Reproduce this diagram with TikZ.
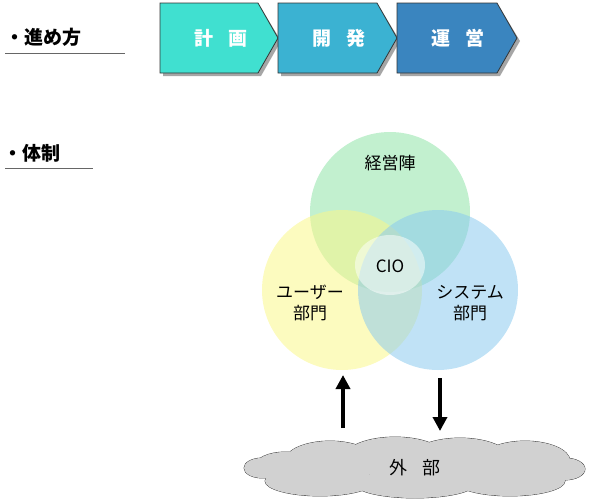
\documentclass[tikz,border=0pt]{standalone}
\usepackage{fontspec}
\setmainfont{Noto Sans CJK JP}
\usetikzlibrary{arrows.meta}
\definecolor{c1}{HTML}{40E0D0}\definecolor{c2}{HTML}{3BB2D2}\definecolor{c3}{HTML}{3A85BF}
\definecolor{cg}{HTML}{8FE3A8}\definecolor{cy}{HTML}{FAF78A}\definecolor{cb}{HTML}{8CCBEE}
\begin{document}
\begin{tikzpicture}[x=1pt,y=-1pt,
 chev/.style={draw=black!80,line width=0.8pt},
 lab/.style={font=\bfseries\fontsize{19}{19}\selectfont,text=white},
 head/.style={font=\bfseries\fontsize{19}{19}\selectfont},
 circ/.style={fill opacity=0.55,draw=none},
 txt/.style={font=\fontsize{17}{21}\selectfont,align=center},
 arr/.style={line width=3.5pt,-{Triangle[length=14pt,width=14pt]}}]
\useasboundingbox (0,0) rectangle (600,499);
\fill[black!35] (163,8) -- (261,8) -- (281,41) -- (261,76) -- (163,76) -- cycle;
\fill[black!35] (281,8) -- (380,8) -- (400,41) -- (380,76) -- (281,76) -- cycle;
\fill[black!35] (400,8) -- (500,8) -- (520,41) -- (500,76) -- (400,76) -- cycle;
\draw[chev,fill=c1] (160,3) -- (258,3) -- (278,38) -- (258,73) -- (160,73) -- cycle;
\draw[chev,fill=c2] (278,3) -- (377,3) -- (397,38) -- (377,73) -- (278,73) -- cycle;
\draw[chev,fill=c3] (397,3) -- (497,3) -- (517,38) -- (497,73) -- (397,73) -- cycle;
\node[lab] (p1) at (221,38) {計\hspace{0.8em}画};
\node[lab] (p2) at (339,38) {開\hspace{0.8em}発};
\node[lab] (p3) at (458,38) {運\hspace{0.8em}営};
\node[head,anchor=west] (h1) at (2,37) {・進め方};
\draw[black!60] (5,53) -- (125,53);
\node[head,anchor=west] (h2) at (0,153) {・体制};
\draw[black!60] (5,168) -- (93,168);
\fill[circ,fill=cg] (390,212) circle (80);
\fill[circ,fill=cy] (342,290) circle (80);
\fill[circ,fill=cb] (438,290) circle (80);
\fill[white,fill opacity=0.5] (390,265) ellipse (35 and 30);
\node[txt] (g) at (390,163) {経営陣};
\node[txt] (c) at (390,266) {CIO};
\node[txt] (u) at (310,303) {ユーザー\\部門};
\node[txt] (s) at (470,303) {システム\\部門};
\def\cloudparts{(262,468) ellipse (18 and 10) (285,466) ellipse (30 and 14) (330,461) ellipse (45 and 20) (395,457) ellipse (50 and 20) (460,459) ellipse (50 and 21) (525,461) ellipse (45 and 20) (565,469) ellipse (20 and 11) (320,481) ellipse (55 and 15) (415,484) ellipse (60 and 14) (510,481) ellipse (55 and 15)}
\draw[black!80,line width=0.8pt] \cloudparts;
\fill[black!18] \cloudparts;
\node[font=\fontsize{18}{18}\selectfont] (ext) at (415,468) {外\hspace{0.8em}部};
\coordinate (a1) at (343,375);
\coordinate (a2) at (440,378);
\draw[arr] (343,428) -- (a1);
\draw[arr] (a2) -- (440,431);
\end{tikzpicture}
\end{document}
